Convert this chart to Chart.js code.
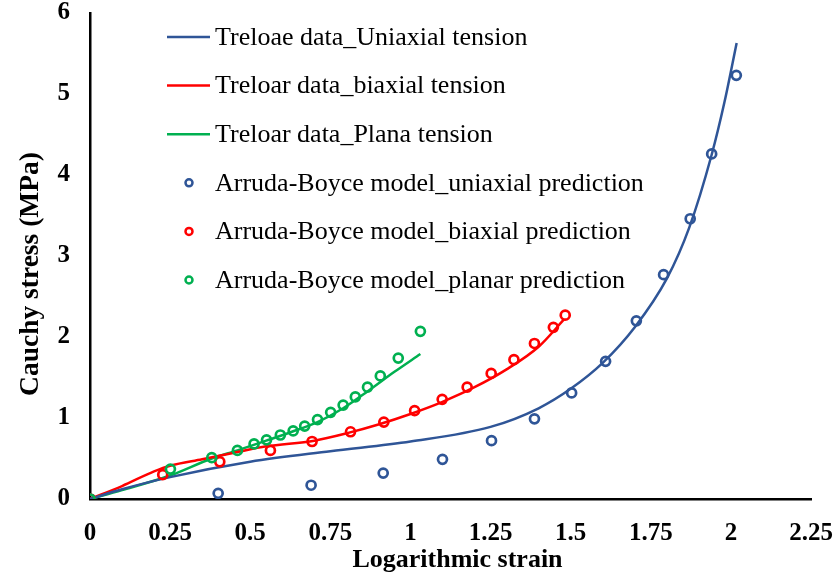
<!DOCTYPE html>
<html>
<head>
<meta charset="utf-8">
<script src="https://cdn.jsdelivr.net/npm/chart.js@4"></script>
<style>
  html, body { margin: 0; padding: 0; background: #fff; }
  #chart { display: block; }
</style>
</head>
<body>
<canvas id="chart" width="839" height="579"></canvas>
<script>
// Treloar rubber data vs. Arruda-Boyce fits: Cauchy stress over log strain.

const X_TICKS = [0, 0.25, 0.5, 0.75, 1, 1.25, 1.5, 1.75, 2, 2.25];
const Y_TICKS = [0, 1, 2, 3, 4, 5, 6];
const X_TITLE = "Logarithmic strain";
const Y_TITLE = "Cauchy stress (MPa)";

// Experimental curves (lines)
const uniLineStrain = [0, 0.1, 0.25, 0.5, 0.75, 1.0, 1.25, 1.4, 1.5, 1.6, 1.7, 1.8, 1.87, 1.94, 1.98, 2.018];
const uniLineStress = [0, 0.12, 0.27, 0.46, 0.59, 0.71, 0.89, 1.12, 1.36, 1.68, 2.12, 2.72, 3.35, 4.25, 4.9, 5.63];

const biLineStrain = [0, 0.1, 0.2, 0.25, 0.35, 0.45, 0.55, 0.7, 0.8, 0.9, 1.0, 1.1, 1.2, 1.3, 1.4, 1.48];
const biLineStress = [0, 0.16, 0.34, 0.41, 0.49, 0.57, 0.65, 0.72, 0.81, 0.92, 1.05, 1.2, 1.38, 1.6, 1.88, 2.22];

const plLineStrain = [0, 0.1, 0.25, 0.38, 0.46, 0.55, 0.63, 0.71, 0.79, 0.87, 0.95, 1.031];
const plLineStress = [0, 0.11, 0.29, 0.5, 0.6, 0.72, 0.83, 0.95, 1.12, 1.34, 1.57, 1.79];

// Model predictions (circles)
const uniFitStrain = [0, 0.40, 0.69, 0.915, 1.10, 1.253, 1.387, 1.503, 1.609, 1.705, 1.79, 1.873, 1.94, 2.017];
const uniFitStress = [0, 0.07, 0.17, 0.32, 0.49, 0.72, 0.99, 1.31, 1.70, 2.20, 2.77, 3.46, 4.26, 5.23];

const biFitStrain = [0, 0.227, 0.405, 0.563, 0.693, 0.813, 0.917, 1.013, 1.099, 1.177, 1.252, 1.323, 1.387, 1.446, 1.483];
const biFitStress = [0, 0.30, 0.46, 0.60, 0.71, 0.83, 0.95, 1.09, 1.23, 1.38, 1.55, 1.72, 1.92, 2.12, 2.27];

const plFitStrain = [0, 0.251, 0.38, 0.46, 0.512, 0.551, 0.594, 0.634, 0.67, 0.71, 0.751, 0.79, 0.828, 0.866, 0.906, 0.962, 1.031];
const plFitStress = [0, 0.37, 0.51, 0.60, 0.68, 0.73, 0.79, 0.84, 0.90, 0.98, 1.07, 1.16, 1.26, 1.38, 1.52, 1.74, 2.07];

const BLUE = "#2F5597";
const RED = "#FF0000";
const GREEN = "#00B050";
const SERIF = "'Liberation Serif', 'Times New Roman', serif";

function pts(xs, ys) {
  return xs.map((x, i) => ({ x: x, y: ys[i] }));
}

function lineSet(label, xs, ys, color) {
  return {
    label, data: pts(xs, ys), showLine: true,
    borderColor: color, backgroundColor: color, borderWidth: 2.5,
    pointRadius: 0, cubicInterpolationMode: "monotone", order: 4,
    kind: "line",
  };
}

// lower order is painted later, so green circles end up on top at the origin
function dotSet(label, xs, ys, color, order) {
  return {
    label, data: pts(xs, ys), showLine: false,
    borderColor: color, backgroundColor: "rgba(0,0,0,0)", borderWidth: 2.7,
    pointRadius: 4.5, pointHoverRadius: 4.5, order: order,
    kind: "dot",
  };
}

// Legend drawn inside the plot, upper-left
const legendInside = {
  id: "legendInside",
  afterDraw(chart) {
    const ctx = chart.ctx;
    const x0 = 167, y0 = 37, rowH = 48.6;
    ctx.save();
    ctx.font = "26px " + SERIF;
    ctx.textBaseline = "middle";
    ctx.fillStyle = "#000";
    chart.data.datasets.forEach((ds, i) => {
      const y = y0 + i * rowH;
      ctx.strokeStyle = ds.borderColor;
      ctx.lineWidth = 2.5;
      ctx.beginPath();
      if (ds.kind === "line") {
        ctx.moveTo(x0, y);
        ctx.lineTo(x0 + 43, y);
      } else {
        ctx.arc(x0 + 22, y, 3.5, 0, Math.PI * 2);
      }
      ctx.stroke();
      ctx.fillText(ds.label, x0 + 48, y + 1);
    });
    ctx.restore();
  },
};

// Axis titles, placed off the plot area
const axisTitles = {
  id: "axisTitles",
  afterDraw(chart) {
    const ctx = chart.ctx;
    const a = chart.chartArea;
    ctx.save();
    ctx.fillStyle = "#000";
    ctx.textAlign = "center";
    ctx.textBaseline = "middle";
    ctx.font = "bold 26px " + SERIF;
    ctx.fillText(X_TITLE, (a.left + a.right) / 2 + 7, a.bottom + 61);
    ctx.translate(31, (a.top + a.bottom) / 2 + 18);
    ctx.rotate(-Math.PI / 2);
    ctx.font = "bold 27.5px " + SERIF;
    ctx.fillText(Y_TITLE, 0, 0);
    ctx.restore();
  },
};

new Chart(document.getElementById("chart"), {
  type: "scatter",
  data: {
    datasets: [
      lineSet("Treloae data_Uniaxial tension", uniLineStrain, uniLineStress, BLUE),
      lineSet("Treloar data_biaxial tension", biLineStrain, biLineStress, RED),
      lineSet("Treloar data_Plana tension", plLineStrain, plLineStress, GREEN),
      dotSet("Arruda-Boyce model_uniaxial prediction", uniFitStrain, uniFitStress, BLUE, 3),
      dotSet("Arruda-Boyce model_biaxial prediction", biFitStrain, biFitStress, RED, 2),
      dotSet("Arruda-Boyce model_planar prediction", plFitStrain, plFitStress, GREEN, 1),
    ],
  },
  options: {
    responsive: false,
    animation: false,
    layout: { padding: { top: 13, right: 28, bottom: 0, left: 0 } },
    plugins: { legend: { display: false }, tooltip: { enabled: false } },
    scales: {
      x: {
        type: "linear", min: 0, max: 2.25,
        afterBuildTicks: (s) => { s.ticks = X_TICKS.map((v) => ({ value: v })); },
        afterFit: (s) => { s.height = 80; s.paddingLeft = 0; s.paddingRight = 0; },
        grid: { display: false, drawTicks: false },
        border: { display: true, color: "#000", width: 2.5 },
        ticks: {
          color: "#000", padding: 20,
          font: { family: SERIF, size: 25, weight: "bold" },
          callback: (v) => String(v),
        },
      },
      y: {
        type: "linear", min: 0, max: 6,
        afterBuildTicks: (s) => { s.ticks = Y_TICKS.map((v) => ({ value: v })); },
        afterFit: (s) => { s.width = 90; s.paddingTop = 0; s.paddingBottom = 0; },
        grid: { display: false, drawTicks: false },
        border: { display: true, color: "#000", width: 2.5 },
        ticks: {
          color: "#000", padding: 20,
          font: { family: SERIF, size: 25, weight: "bold" },
          callback: (v) => String(v),
        },
      },
    },
  },
  plugins: [legendInside, axisTitles],
});
</script>
</body>
</html>
